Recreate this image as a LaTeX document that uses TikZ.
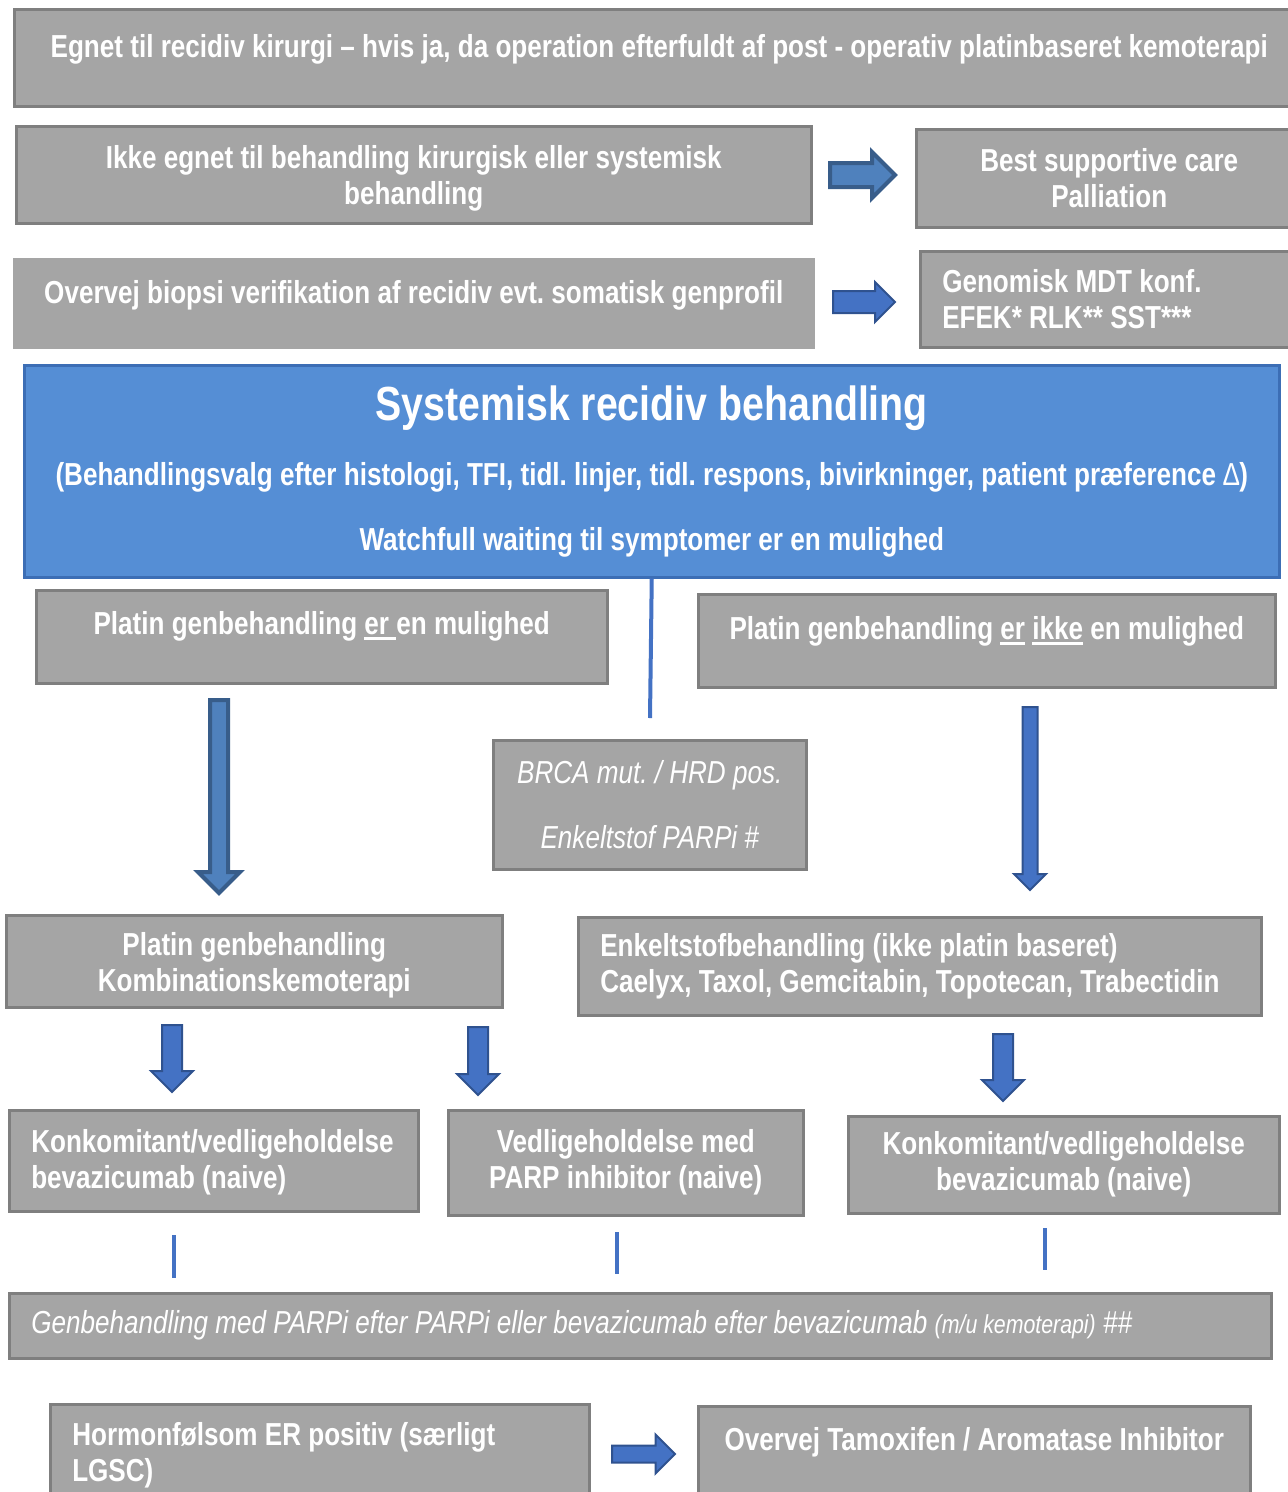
\documentclass[tikz,border=0pt]{standalone}
\usepackage{fontspec}
\setmainfont{Liberation Sans}[FakeStretch=0.82]
\usetikzlibrary{calc}
\frenchspacing

\definecolor{boxgray}{HTML}{A5A5A5}
\definecolor{boxline}{HTML}{7F7F7F}
\definecolor{sysfill}{HTML}{558ED5}
\definecolor{sysline}{HTML}{3C6EB5}
\definecolor{arrfill}{HTML}{4472C4}
\definecolor{arrline}{HTML}{2F528F}
\definecolor{fatfill}{HTML}{4F81BD}
\definecolor{fatline}{HTML}{385D8A}

% underline with a thick bar
\newcommand{\ulbox}[1]{\setbox0\hbox{#1}\rlap{\rule[-5pt]{\wd0}{2.5pt}}\box0\relax}
% taller first line, pushes two-line text down
\newcommand{\tup}[1]{\rule{0pt}{#1}}

% block arrows: [style]{x}{y}{length}{shaft}{head}
\newcommand{\rarrow}[6][]{%
  \draw[#1] (#2,#3) ++(0,-#5/2) -- ++(#4-#6/2,0) -- ++(0,-#6/2+#5/2) -- ++(#6/2,#6/2)
    -- ++(-#6/2,#6/2) -- ++(0,-#6/2+#5/2) -- ++(-#4+#6/2,0) -- cycle;}
\newcommand{\darrow}[6][]{%
  \draw[#1] (#2,#3) ++(-#5/2,0) -- ++(0,#4-#6/2) -- ++(-#6/2+#5/2,0) -- ++(#6/2,#6/2)
    -- ++(#6/2,-#6/2) -- ++(-#6/2+#5/2,0) -- ++(0,-#4+#6/2) -- cycle;}

\begin{document}
\begin{tikzpicture}[x=1pt, y=-1pt,
    gbox/.style={draw=boxline, fill=boxgray, line width=2.5pt, text=white,
      font=\fontsize{31.8}{36}\selectfont\bfseries, align=center, inner sep=0pt,
      anchor=north west},
    leftbox/.style={align=flush left, inner xsep=22pt, text width=#1},
    lift/.style={text height=24pt, text depth=#1},
    itext/.style={font=\fontsize{31.8}{36}\selectfont\itshape},
    sysbox/.style={gbox, draw=sysline, fill=sysfill,
      font=\fontsize{31.8}{65}\selectfont\bfseries},
    flatarrow/.style={fill=arrfill, draw=arrline, line width=2pt},
    fatarrow/.style={fill=fatfill, draw=fatline, line width=4pt},
    bluelink/.style={draw=arrfill, line width=4pt}
  ]

  \useasboundingbox (0,0) rectangle (1288,1492);
  \clip (0,0) rectangle (1288,1492);

  % top rows
  \node[gbox, minimum width=1290pt, minimum height=97pt, lift=24pt] (surg) at (13,8)
    {Egnet til recidiv kirurgi – hvis ja, da operation efterfuldt af post - operativ platinbaseret kemoterapi};
  \node[gbox, minimum width=795pt, minimum height=97pt] (unfit) at (15,125)
    {\tup{31pt}Ikke egnet til behandling kirurgisk eller systemisk\\behandling};
  \node[gbox, minimum width=386pt, minimum height=98pt] (bsc) at (915,128)
    {Best supportive care\\Palliation};
  \node[gbox, draw=boxgray, minimum width=799pt, minimum height=88pt, lift=24pt] (biopsy) at (13,258)
    {Overvej biopsi verifikation af recidiv evt. somatisk genprofil};
  \node[gbox, minimum width=380pt, minimum height=96pt, leftbox=336pt] (mdt) at (919,250)
    {Genomisk MDT konf.\\EFEK* RLK** SST***};

  \rarrow[fatarrow]{830}{175}{65}{24}{46}
  \rarrow[flatarrow]{833}{302}{62}{22}{40}

  % systemic treatment
  \node[sysbox, minimum width=1255pt, minimum height=212pt] (sys) at (23,364)
    {{\fontsize{47.9}{65}\selectfont Systemisk recidiv behandling}\\
     (Behandlingsvalg efter histologi, TFI, tidl. linjer, tidl. respons, bivirkninger, patient præference {\mdseries ∆})\\
     Watchfull waiting til symptomer er en mulighed};
  \coordinate (sysEnd) at (650,718);
  \draw[bluelink] (sys.south) -- (sysEnd);

  % platinum branches
  \node[gbox, minimum width=571pt, minimum height=93pt, lift=28pt] (platYes) at (35,589)
    {Platin genbehandling \ulbox{er\ }en mulighed};
  \node[gbox, minimum width=577pt, minimum height=93pt, lift=26pt] (platNo) at (697,593)
    {Platin genbehandling \ulbox{er} \ulbox{ikke} en mulighed};
  \node[gbox, itext, minimum width=313pt, minimum height=129pt] (brca) at (492,739)
    {BRCA mut. / HRD pos.\\[29pt]Enkeltstof PARPi \#};

  \darrow[fatarrow]{219}{700}{193}{18}{42}
  \darrow[flatarrow]{1030}{707}{183}{15}{32}

  \node[gbox, minimum width=496pt, minimum height=92pt] (combo) at (5,914)
    {\tup{31pt}Platin genbehandling\\Kombinationskemoterapi};
  \node[gbox, minimum width=683pt, minimum height=98pt, leftbox=639pt] (single) at (577,916)
    {Enkeltstofbehandling (ikke platin baseret)\\Caelyx, Taxol, Gemcitabin, Topotecan, Trabectidin};

  \darrow[flatarrow]{172}{1025}{67}{20}{42}
  \darrow[flatarrow]{478}{1027}{68}{20}{42}
  \darrow[flatarrow]{1003}{1034}{67}{20}{42}

  % maintenance
  \node[gbox, minimum width=409pt, minimum height=101pt, leftbox=365pt] (bevA) at (8,1109)
    {\tup{26pt}Konkomitant/vedligeholdelse\\bevazicumab (naive)};
  \node[gbox, minimum width=355pt, minimum height=105pt] (parp) at (447,1109)
    {Vedligeholdelse med\\PARP inhibitor (naive)};
  \node[gbox, minimum width=431pt, minimum height=97pt] (bevB) at (847,1115)
    {Konkomitant/vedligeholdelse\\bevazicumab (naive)};

  \coordinate (bevAa) at (174,1235);
  \coordinate (bevAb) at (174,1278);
  \coordinate (parpa) at (617,1232);
  \coordinate (parpb) at (617,1274);
  \coordinate (bevBa) at (1045,1228);
  \coordinate (bevBb) at (1045,1270);
  \draw[bluelink] (bevAa) -- (bevAb);
  \draw[bluelink] (parpa) -- (parpb);
  \draw[bluelink] (bevBa) -- (bevBb);

  \node[gbox, itext, minimum width=1262pt, minimum height=65pt, leftbox=1218pt] (retreat) at (8,1292)
    {Genbehandling med PARPi efter PARPi eller bevazicumab efter bevazicumab
     {\fontsize{26}{30}\selectfont(m/u kemoterapi)} \#\#};

  % hormone
  \node[gbox, minimum width=537pt, minimum height=92pt, leftbox=495pt] (hormone) at (49,1403)
    {\tup{33pt}Hormonfølsom ER positiv (særligt\\LGSC)};
  \rarrow[flatarrow]{612}{1454}{63}{17}{39}
  \node[gbox, minimum width=552pt, minimum height=100pt, lift=35pt] (tamox) at (697,1405)
    {Overvej Tamoxifen / Aromatase Inhibitor};

\end{tikzpicture}
\end{document}
